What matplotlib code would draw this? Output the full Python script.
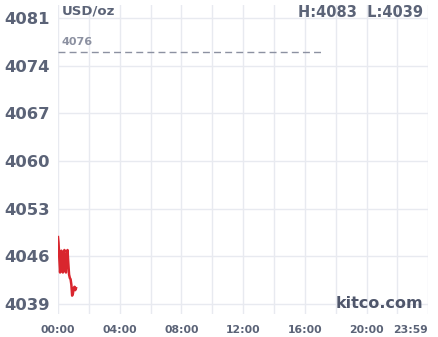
import matplotlib
matplotlib.use("Agg")
import matplotlib.pyplot as plt
import numpy as np

# minutes since 00:00 and gold price (USD/oz)
times = [0, 2, 5, 8, 10, 13, 16, 19, 22, 25, 28, 31, 34, 37, 40, 43, 46, 49, 52, 55, 58, 61, 64, 67, 70]
prices = [4048.8, 4048.0, 4045.8, 4043.6, 4044.8, 4046.8, 4046.5, 4043.6, 4046.5, 4046.9,
          4044.0, 4043.6, 4046.0, 4046.9, 4045.0, 4043.3, 4042.8, 4042.6, 4041.8, 4040.2,
          4040.5, 4041.3, 4041.5, 4041.0, 4041.3]

prev_close = 4076
prev_close_end = 1023  # minutes
high, low = 4083, 4039

yticks = [4039, 4046, 4053, 4060, 4067, 4074, 4081]
xticks = [0, 240, 480, 720, 960, 1200, 1439]
xlabels = ["00:00", "04:00", "08:00", "12:00", "16:00", "20:00", "23:59"]

txt = "#5b6377"
grid = "#e8eaf0"

fig = plt.figure(figsize=(4.38, 3.37), dpi=100)
ax = fig.add_axes([58/438, 23/337, 370/438, 309/337])

ax.set_xlim(0, 1439)
ax.set_ylim(4037.5, 4082.9)

ax.set_xticks(xticks)
ax.set_xticklabels(xlabels)
ax.set_xticks(np.arange(0, 1440, 120), minor=True)
ax.set_yticks(yticks)
ax.grid(True, which="both", color=grid, linewidth=1)
ax.tick_params(which="both", length=0)
ax.tick_params(axis="x", pad=8, labelsize=7.8, labelcolor=txt)
ax.tick_params(axis="y", pad=6, labelsize=11.8, labelcolor=txt)
for lab in ax.get_xticklabels() + ax.get_yticklabels():
    lab.set_fontweight("bold")
ax.get_xticklabels()[-1].set_horizontalalignment("right")
for s in ax.spines.values():
    s.set_visible(False)

ax.plot([0, prev_close_end], [prev_close, prev_close], color="#8c91a1",
        linestyle=(0, (5, 3)), linewidth=1)
ax.text(4/370, (prev_close + 0.7 - 4037.5) / 45.4, str(prev_close), transform=ax.transAxes,
        fontsize=8, fontweight="bold", color="#8c91a1", va="bottom", ha="left")

ax.plot(times, prices, color="#d9262e", linewidth=1.8, solid_joinstyle="round")

ax.text(4/370, 1.0, "USD/oz", transform=ax.transAxes, fontsize=9.5,
        fontweight="bold", color=txt, va="top", ha="left")
ax.text(0.987, 1.0, f"H:{high}  L:{low}", transform=ax.transAxes, fontsize=10.5,
        fontweight="bold", color=txt, va="top", ha="right")
ax.text(0.987, 0.01, "kitco.com", transform=ax.transAxes, fontsize=11.5,
        fontweight="bold", color="#4f566b", va="bottom", ha="right")

fig.savefig("out.png", dpi=100)
